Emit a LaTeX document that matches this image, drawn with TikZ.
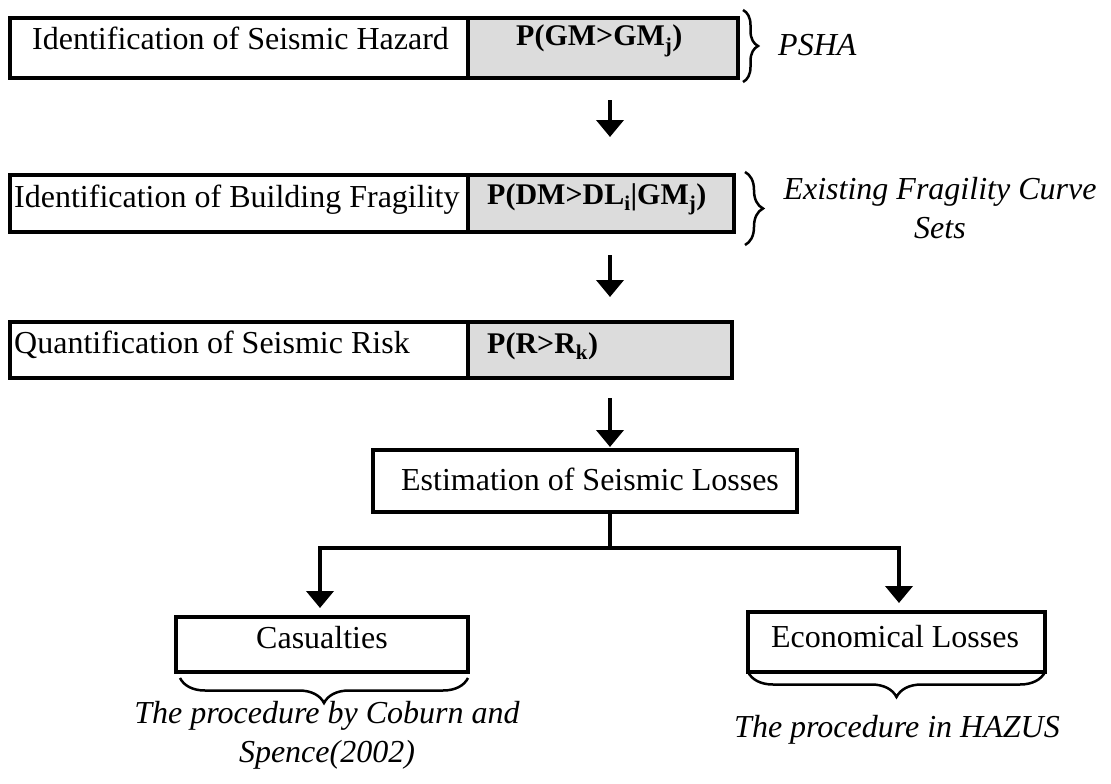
\documentclass[tikz,border=0pt]{standalone}
\usepackage{fontspec}
\setmainfont{Liberation Serif}
\usetikzlibrary{arrows.meta,decorations.pathreplacing}
\definecolor{boxgrey}{RGB}{220,220,220}
\begin{document}
\begin{tikzpicture}[x=1pt,y=-1pt,
  boxw/.style={draw, line width=4pt, inner sep=0pt, outer sep=0pt, anchor=north west},
  boxg/.style={boxw, fill=boxgrey, line width=3.5pt},
  txt/.style={inner sep=0pt, anchor=base west, font=\fontsize{32}{38}\selectfont},
  ctxt/.style={inner sep=0pt, anchor=base, font=\fontsize{32}{38}\selectfont},
  btxt/.style={inner sep=0pt, anchor=base west, font=\fontsize{30}{36}\selectfont\bfseries},
  itxt/.style={inner sep=0pt, anchor=base, align=center, font=\fontsize{32}{39}\selectfont\itshape},
  arr/.style={line width=4pt, -{Triangle[length=17pt,width=27pt]}},
  link/.style={line width=4pt, line cap=rect},
  brc/.style={decorate, decoration={brace, amplitude=#1}, line width=2.5pt},
]
\useasboundingbox (0,0) rectangle (1111,784);

% row 1
\node[boxw, minimum width=458, minimum height=60] (hz) at (10,18) {};
\node[boxg, minimum width=270, minimum height=60] (hzp) at (468,18) {};
\node[txt] (hzt) at (32,50) {Identification of Seismic Hazard};
\node[btxt] (hzpt) at (516,46) {P(GM>GM\textsubscript{j})};

% row 2
\node[boxw, minimum width=458, minimum height=57] (fg) at (10,175) {};
\node[boxg, minimum width=266, minimum height=57] (fgp) at (468,175) {};
\node[txt] (fgt) at (14,207) {Identification of Building Fragility};
\node[btxt] (fgpt) at (487,204) {P(DM>DL\textsubscript{i}|GM\textsubscript{j})};

% row 3
\node[boxw, minimum width=458, minimum height=56] (rk) at (10,322) {};
\node[boxg, minimum width=264, minimum height=56] (rkp) at (468,322) {};
\node[txt] (rkt) at (14,353) {Quantification of Seismic Risk};
\node[btxt] (rkpt) at (487,353) {P(R>R\textsubscript{k})};

% estimation
\node[boxw, minimum width=424, minimum height=62] (est) at (373,450) {};
\node[ctxt] (estt) at (590,490) {Estimation of Seismic Losses};

% casualties / economical
\node[boxw, minimum width=292, minimum height=55] (cas) at (176,617) {};
\node[ctxt] (cast) at (322,648) {Casualties};
\node[boxw, minimum width=297, minimum height=60] (eco) at (748,612) {};
\node[ctxt] (ecot) at (895,647) {Economical Losses};

% braces and notes
\draw[brc=15] (743,10) -- (743,82);
\node[inner sep=0pt, anchor=base west, font=\fontsize{32}{38}\selectfont\itshape] (psha) at (778,56) {PSHA};
\draw[brc=18] (745,172) -- (745,245);
\node[itxt] (efc) at (940,238) {Existing Fragility Curve\\Sets};
\draw[brc=25] (468,678) -- (180,678);
\node[itxt] (cob) at (327,762) {The procedure by Coburn and\\Spence(2002)};
\draw[brc=25] (1045,672) -- (748,672);
\node[itxt] (haz) at (897,737) {The procedure in HAZUS};

% connectors
\coordinate (ax) at (610,0);
\coordinate (jn) at (610,548);
\coordinate (jl) at (320,548);
\coordinate (jr) at (899,548);
\draw[arr, shorten <=22pt, shorten >=38pt] (hzp.south -| ax) -- (fgp.north -| ax);
\draw[arr, shorten <=23pt, shorten >=25pt] (fgp.south -| ax) -- (rkp.north -| ax);
\draw[arr, shorten <=20pt, shorten >=3pt] (rkp.south -| ax) -- (est.north -| ax);
\draw[link] (est.south -| ax) -- (jn);
\draw[link] (jl) -- (jr);
\draw[arr, shorten >=9pt] (jl) -- (cas.north -| jl);
\draw[arr, shorten >=9pt] (jr) -- (eco.north -| jr);
\end{tikzpicture}
\end{document}
